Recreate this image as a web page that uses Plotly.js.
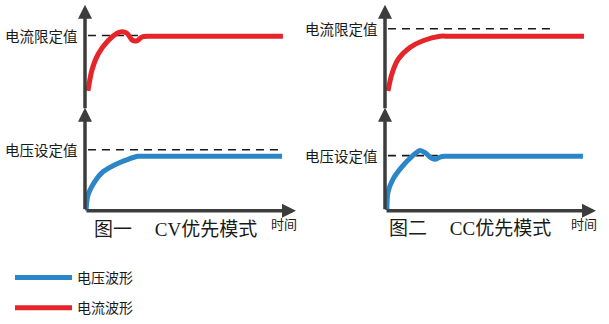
<!DOCTYPE html>
<html>
<head>
<meta charset="utf-8">
<script src="https://cdn.plot.ly/plotly-3.0.1.min.js"></script>
<style>html,body{margin:0;padding:0;background:#fff;}#chart{width:609px;height:324px;}</style>
</head>
<body>
<div id="chart"></div>
<script>
// ---- Data (time in arbitrary units, level relative units) ----
// CV priority mode (left)
const cvTimeCurrent = [0.14, 0.33, 0.62, 1.09, 1.52, 1.75, 1.99, 2.23, 2.46, 2.70, 2.99, 3.30, 9.38];
const cvCurrent     = [0.25, 0.53, 0.74, 0.92, 1.02, 1.04, 1.02, 0.93, 0.92, 0.97, 0.98, 0.98, 0.98];
const cvTimeVoltage = [0.05, 0.14, 0.47, 0.85, 1.52, 2.04, 2.51, 2.90, 9.34];
const cvVoltage     = [0.00, 0.21, 0.40, 0.53, 0.64, 0.70, 0.74, 0.74, 0.74];
const cvCurrentLimit = 0.99;
const cvVoltageSet   = 0.83;
const cvLimitSpan    = [0.14, 7.96];
const cvSetSpan      = [0.14, 9.38];
// CC priority mode (right)
const ccTimeCurrent = [0.14, 0.33, 0.62, 1.18, 1.80, 2.61, 3.10, 9.43];
const ccCurrent     = [0.25, 0.48, 0.67, 0.83, 0.92, 0.98, 0.98, 0.98];
const ccTimeVoltage = [0.09, 0.14, 0.38, 0.81, 1.28, 1.66, 1.90, 2.13, 2.37, 2.61, 2.84, 3.15, 9.38];
const ccVoltage     = [0.01, 0.25, 0.43, 0.60, 0.74, 0.82, 0.79, 0.73, 0.70, 0.73, 0.74, 0.74, 0.74];
const ccCurrentLimit = 1.08;
const ccVoltageSet   = 0.75;
const ccLimitSpan    = [0.14, 7.91];
const ccSetSpan      = [0.14, 7.91];
// Text
const labelCurrentLimit = '电流限定值';
const labelVoltageSet = '电压设定值';
const labelTime = '时间';
const titleCV = '图一\u3000\u2009CV优先模式';
const titleCC = '图二\u3000\u2009CC优先模式';
const legendVoltage = '电压波形';
const legendCurrent = '电流波形';

const RED = '#e5252a';
const BLUE = '#2b86c7';
const AXIS = '#3d3d3d';
const FONT = '"Noto Sans CJK SC", "Noto Sans", sans-serif';
const TITLE_FONT = '"Liberation Serif", "Noto Sans CJK SC", serif';

function dashTrace(span, level, xa, ya) {
  return {x: span, y: [level, level], xaxis: xa, yaxis: ya, mode: 'lines',
    line: {color: '#1a1a1a', width: 1.6, dash: '8px,6px'}, showlegend: false, hoverinfo: 'skip', cliponaxis: false};
}
function curve(x, y, xa, ya, color, name, show, group) {
  return {x: x, y: y, xaxis: xa, yaxis: ya, mode: 'lines', name: name, legendgroup: group,
    line: {color: color, width: 5, shape: 'spline', smoothing: 0.8}, showlegend: show, cliponaxis: false};
}

const traces = [
  dashTrace(cvLimitSpan, cvCurrentLimit, 'x', 'y'),
  dashTrace(cvSetSpan, cvVoltageSet, 'x', 'y2'),
  dashTrace(ccLimitSpan, ccCurrentLimit, 'x2', 'y3'),
  dashTrace(ccSetSpan, ccVoltageSet, 'x2', 'y4'),
  curve(cvTimeVoltage, cvVoltage, 'x', 'y2', BLUE, legendVoltage, true, 'v'),
  curve(ccTimeVoltage, ccVoltage, 'x2', 'y4', BLUE, legendVoltage, false, 'v'),
  curve(cvTimeCurrent, cvCurrent, 'x', 'y', RED, legendCurrent, true, 'i'),
  curve(ccTimeCurrent, ccCurrent, 'x2', 'y3', RED, legendCurrent, false, 'i')
];

const W = 609, H = 324;
const hidden = {visible: false, fixedrange: true};
const topDom = [1 - 115 / H, 1 - 5 / H];
const botDom = [1 - 221 / H, 1 - 113 / H];

function axisArrow(xa, ya, x0, y0, x1, y1) {
  return {xref: xa, yref: ya, axref: xa, ayref: ya, x: x1, y: y1, ax: x0, ay: y0,
    text: '', showarrow: true, arrowhead: 2, arrowsize: 0.8, arrowwidth: 3.5, arrowcolor: AXIS, standoff: 0};
}
function yLabel(text, xa, ya, level) {
  return {xref: xa, yref: ya, x: 0, y: level, xanchor: 'right', yanchor: 'middle', xshift: -5,
    text: text, showarrow: false, font: {family: FONT, size: 14.5, color: '#1a1a1a'}};
}
function paperText(text, px, py, size, anchor, family) {
  return {xref: 'paper', yref: 'paper', x: px / W, y: 1 - py / H, xanchor: anchor, yanchor: 'middle',
    text: text, showarrow: false, font: {family: family || FONT, size: size, color: '#1a1a1a'}};
}

const annotations = [
  axisArrow('x', 'y', 0, 0, 0, 1.4),
  axisArrow('x', 'y2', 0, 0, 0, 1.4),
  axisArrow('x', 'y2', 0, 0, 10, 0),
  axisArrow('x2', 'y3', 0, 0, 0, 1.4),
  axisArrow('x2', 'y4', 0, 0, 0, 1.4),
  axisArrow('x2', 'y4', 0, 0, 10, 0),
  yLabel(labelCurrentLimit, 'x', 'y', cvCurrentLimit),
  yLabel(labelVoltageSet, 'x', 'y2', cvVoltageSet),
  yLabel(labelCurrentLimit, 'x2', 'y3', ccCurrentLimit),
  yLabel(labelVoltageSet, 'x2', 'y4', ccVoltageSet),
  paperText(labelTime, 283.5, 234, 13, 'center'),
  paperText(labelTime, 583.5, 234, 13, 'center'),
  paperText(titleCV, 92, 241, 19, 'left', TITLE_FONT),
  paperText(titleCC, 387, 240, 19, 'left', TITLE_FONT)
];

const layout = {
  width: W, height: H,
  margin: {l: 0, r: 0, t: 0, b: 0},
  paper_bgcolor: '#ffffff', plot_bgcolor: 'rgba(0,0,0,0)',
  font: {family: FONT},
  xaxis: Object.assign({domain: [85 / W, 296 / W], range: [0, 10], anchor: 'y2'}, hidden),
  xaxis2: Object.assign({domain: [385 / W, 596 / W], range: [0, 10], anchor: 'y4'}, hidden),
  yaxis: Object.assign({domain: topDom, range: [0, 1.4], anchor: 'x'}, hidden),
  yaxis2: Object.assign({domain: botDom, range: [0, 1.4], anchor: 'x'}, hidden),
  yaxis3: Object.assign({domain: topDom, range: [0, 1.4], anchor: 'x2'}, hidden),
  yaxis4: Object.assign({domain: botDom, range: [0, 1.4], anchor: 'x2'}, hidden),
  annotations: annotations,
  showlegend: true,
  legend: {x: 10 / W, y: 1 - 275 / H, xanchor: 'left', yanchor: 'top', orientation: 'v',
    itemwidth: 57, tracegroupgap: 9, bgcolor: 'rgba(0,0,0,0)',
    font: {family: FONT, size: 14, color: '#1a1a1a'}}
};

Plotly.newPlot('chart', traces, layout, {staticPlot: true, displayModeBar: false});
</script>
</body>
</html>
